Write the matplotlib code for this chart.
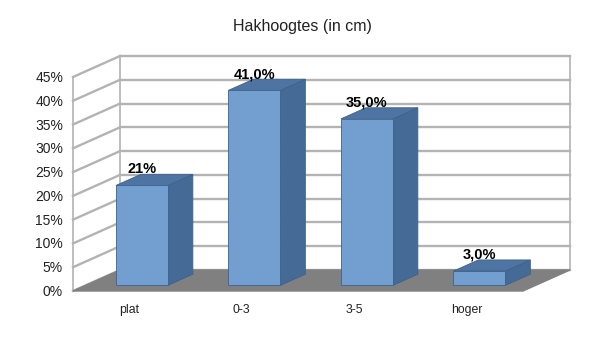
import matplotlib.pyplot as plt
from matplotlib.patches import Polygon

plt.rcParams["font.family"] = ["Liberation Sans", "DejaVu Sans"]

categories = ["plat", "0-3", "3-5", "hoger"]
values = [21, 41, 35, 3]
value_labels = ["21%", "41,0%", "35,0%", "3,0%"]
ticks = [0, 5, 10, 15, 20, 25, 30, 35, 40, 45]

# pseudo-3D frame in pixel space
X0, X1 = 73, 523          # front left / right
Y0, YTOP = 291, 77        # front y of 0% and 45%
DX, DY = 47, -21          # depth offset of the back wall
VMAX = 45
FRONT = "#729fcf"
SIDE = "#466a96"
TOP = "#4d74a3"
EDGE = "#3f6189"
GRID = "#b3b3b3"


def pt(x, v, d):
    """front x, value in %, depth 0..1 -> pixel point"""
    y = Y0 - (Y0 - YTOP) * v / VMAX
    return (x + DX * d, y + DY * d)


fig = plt.figure(figsize=(6.04, 3.40), dpi=100)
ax = fig.add_axes([0, 0, 1, 1])
ax.set_xlim(0, 604); ax.set_ylim(340, 0); ax.axis("off")

# back wall grid + left wall
for t in ticks:
    ax.plot(*zip(pt(X0, t, 1), pt(X1, t, 1)), color=GRID, lw=1.7, zorder=1)
    ax.plot(*zip(pt(X0, t, 0), pt(X0, t, 1)), color=GRID, lw=1.7, zorder=1)
    ax.text(63, pt(X0, t, 0)[1] + 1, f"{t}%", ha="right", va="center", fontsize=10, color="#222222")
for x, d in ((X0, 0), (X0, 1), (X1, 1)):
    ax.plot(*zip(pt(x, 0, d), pt(x, VMAX, d)), color=GRID, lw=1.2, zorder=1)

# floor
ax.add_patch(Polygon([pt(X0, 0, 0), pt(X1, 0, 0), pt(X1, 0, 1), pt(X0, 0, 1)],
                     closed=True, facecolor="#808080", edgecolor="#808080", zorder=2))

slot = (X1 - X0) / len(categories)
hw = 26
d0, d1 = 0.27, 0.80
for i, (cat, v, lab) in enumerate(zip(categories, values, value_labels)):
    c = X0 + slot * (i + 0.5)
    l, r = c - hw, c + hw
    side = [pt(r, 0, d0), pt(r, v, d0), pt(r, v, d1), pt(r, 0, d1)]
    top = [pt(l, v, d0), pt(r, v, d0), pt(r, v, d1), pt(l, v, d1)]
    front = [pt(l, 0, d0), pt(r, 0, d0), pt(r, v, d0), pt(l, v, d0)]
    for poly, col in ((side, SIDE), (top, TOP), (front, FRONT)):
        ax.add_patch(Polygon(poly, closed=True, facecolor=col, edgecolor=EDGE, lw=0.6, zorder=3))
    bx, by = pt(c, v, d1)
    ax.text(c + DX * d0, by - 5, lab, ha="center", va="center", fontsize=10.5, fontweight="bold", zorder=4)
    ax.text(c, 310, cat, ha="center", va="center", fontsize=8.8, color="#222222")

ax.text(302, 26, "Hakhoogtes (in cm)", ha="center", va="center", fontsize=11.5, color="#222222")

fig.savefig("out.png", dpi=100)
